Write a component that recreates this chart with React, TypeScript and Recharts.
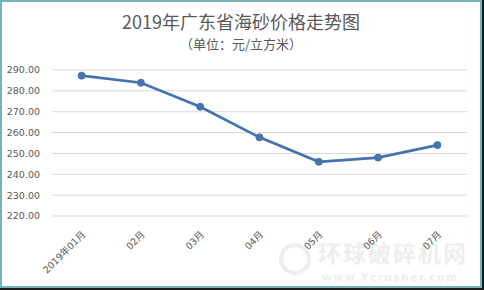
import React from 'react';
import { LineChart, Line, XAxis, YAxis, CartesianGrid } from 'recharts';

const months = ['2019年01月', '02月', '03月', '04月', '05月', '06月', '07月'];
const prices = [287.3, 283.9, 272.4, 257.7, 246.0, 248.0, 254.0];
const yTicks = [220, 230, 240, 250, 260, 270, 280, 290];

const data = months.map((m, i) => ({ month: m, price: prices[i] }));

const FONT = '"DejaVu Sans", "Noto Sans CJK SC", sans-serif';
const CJK = '"Noto Sans CJK SC", "DejaVu Sans", sans-serif';

const XTick = (props: any) => {
  const { x, payload } = props;
  return (
    <g transform={`translate(${x + 4.5},235)`}>
      <text x={0} y={0} textAnchor="end" transform="rotate(-45)" fill="#595959" fontSize={9.5} fontFamily={FONT}>
        {payload.value}
      </text>
    </g>
  );
};

export default function App() {
  return (
    <div style={{ position: 'absolute', left: 0, top: 0, width: 484, height: 290, background: '#1a1a1a', overflow: 'hidden' }}>
      <div
        style={{
          position: 'absolute',
          left: 0,
          top: 0,
          width: 482,
          height: 288,
          boxSizing: 'border-box',
          border: '2px solid #74b4c0',
          background: '#ffffff',
        }}
      />
      <div
        style={{
          position: 'absolute',
          left: 0,
          width: 482,
          top: 9,
          textAlign: 'center',
          fontFamily: CJK,
          fontSize: 18,
          color: '#595959',
          lineHeight: '24px',
          whiteSpace: 'nowrap',
        }}
      >
        2019年广东省海砂价格走势图
      </div>
      <div
        style={{
          position: 'absolute',
          left: 0,
          width: 482,
          top: 35,
          textAlign: 'center',
          fontFamily: CJK,
          fontSize: 13,
          color: '#595959',
          lineHeight: '17px',
          whiteSpace: 'nowrap',
        }}
      >
        （单位：元/立方米）
      </div>
      {/* watermark */}
      <div
        style={{
          position: 'absolute',
          left: 279,
          top: 243,
          width: 32,
          height: 32,
          borderRadius: '50%',
          border: '4px solid #eeeeee',
          boxSizing: 'border-box',
        }}
      />
      <div
        style={{
          position: 'absolute',
          left: 318,
          top: 240,
          width: 152,
          fontFamily: CJK,
          fontWeight: 700,
          fontSize: 23,
          letterSpacing: 2,
          color: '#eeeeee',
          lineHeight: '24px',
          whiteSpace: 'nowrap',
        }}
      >
        环球破碎机网
      </div>
      <div
        style={{
          position: 'absolute',
          left: 322,
          top: 272,
          width: 150,
          fontFamily: FONT,
          fontWeight: 700,
          fontSize: 11,
          letterSpacing: 1.2,
          color: '#eeeeee',
          lineHeight: '12px',
          whiteSpace: 'nowrap',
        }}
      >
        www.Ycrusher.com
      </div>
      <div style={{ position: 'absolute', left: 0, top: 0 }}>
        <LineChart width={484} height={290} data={data} margin={{ top: 70, right: 17, bottom: 0, left: 0 }}>
          <CartesianGrid vertical={false} stroke="#d9d9d9" strokeWidth={1} />
          <XAxis
            dataKey="month"
            axisLine={false}
            tickLine={false}
            interval={0}
            padding={{ left: 29.6, right: 29.6 }}
            tick={<XTick />}
            height={74}
          />
          <YAxis
            width={52}
            domain={[220, 290]}
            ticks={yTicks}
            interval={0}
            axisLine={false}
            tickLine={false}
            tickSize={0}
            tickMargin={12}
            tickFormatter={(v: number) => v.toFixed(2)}
            tick={{ fill: '#595959', fontSize: 9.5, fontFamily: FONT }}
          />
          <Line
            type="linear"
            dataKey="price"
            stroke="#4673ad"
            strokeWidth={2.75}
            dot={{ r: 3.5, fill: '#4673ad', stroke: '#4673ad', strokeWidth: 1 }}
            isAnimationActive={false}
          />
        </LineChart>
      </div>
    </div>
  );
}
